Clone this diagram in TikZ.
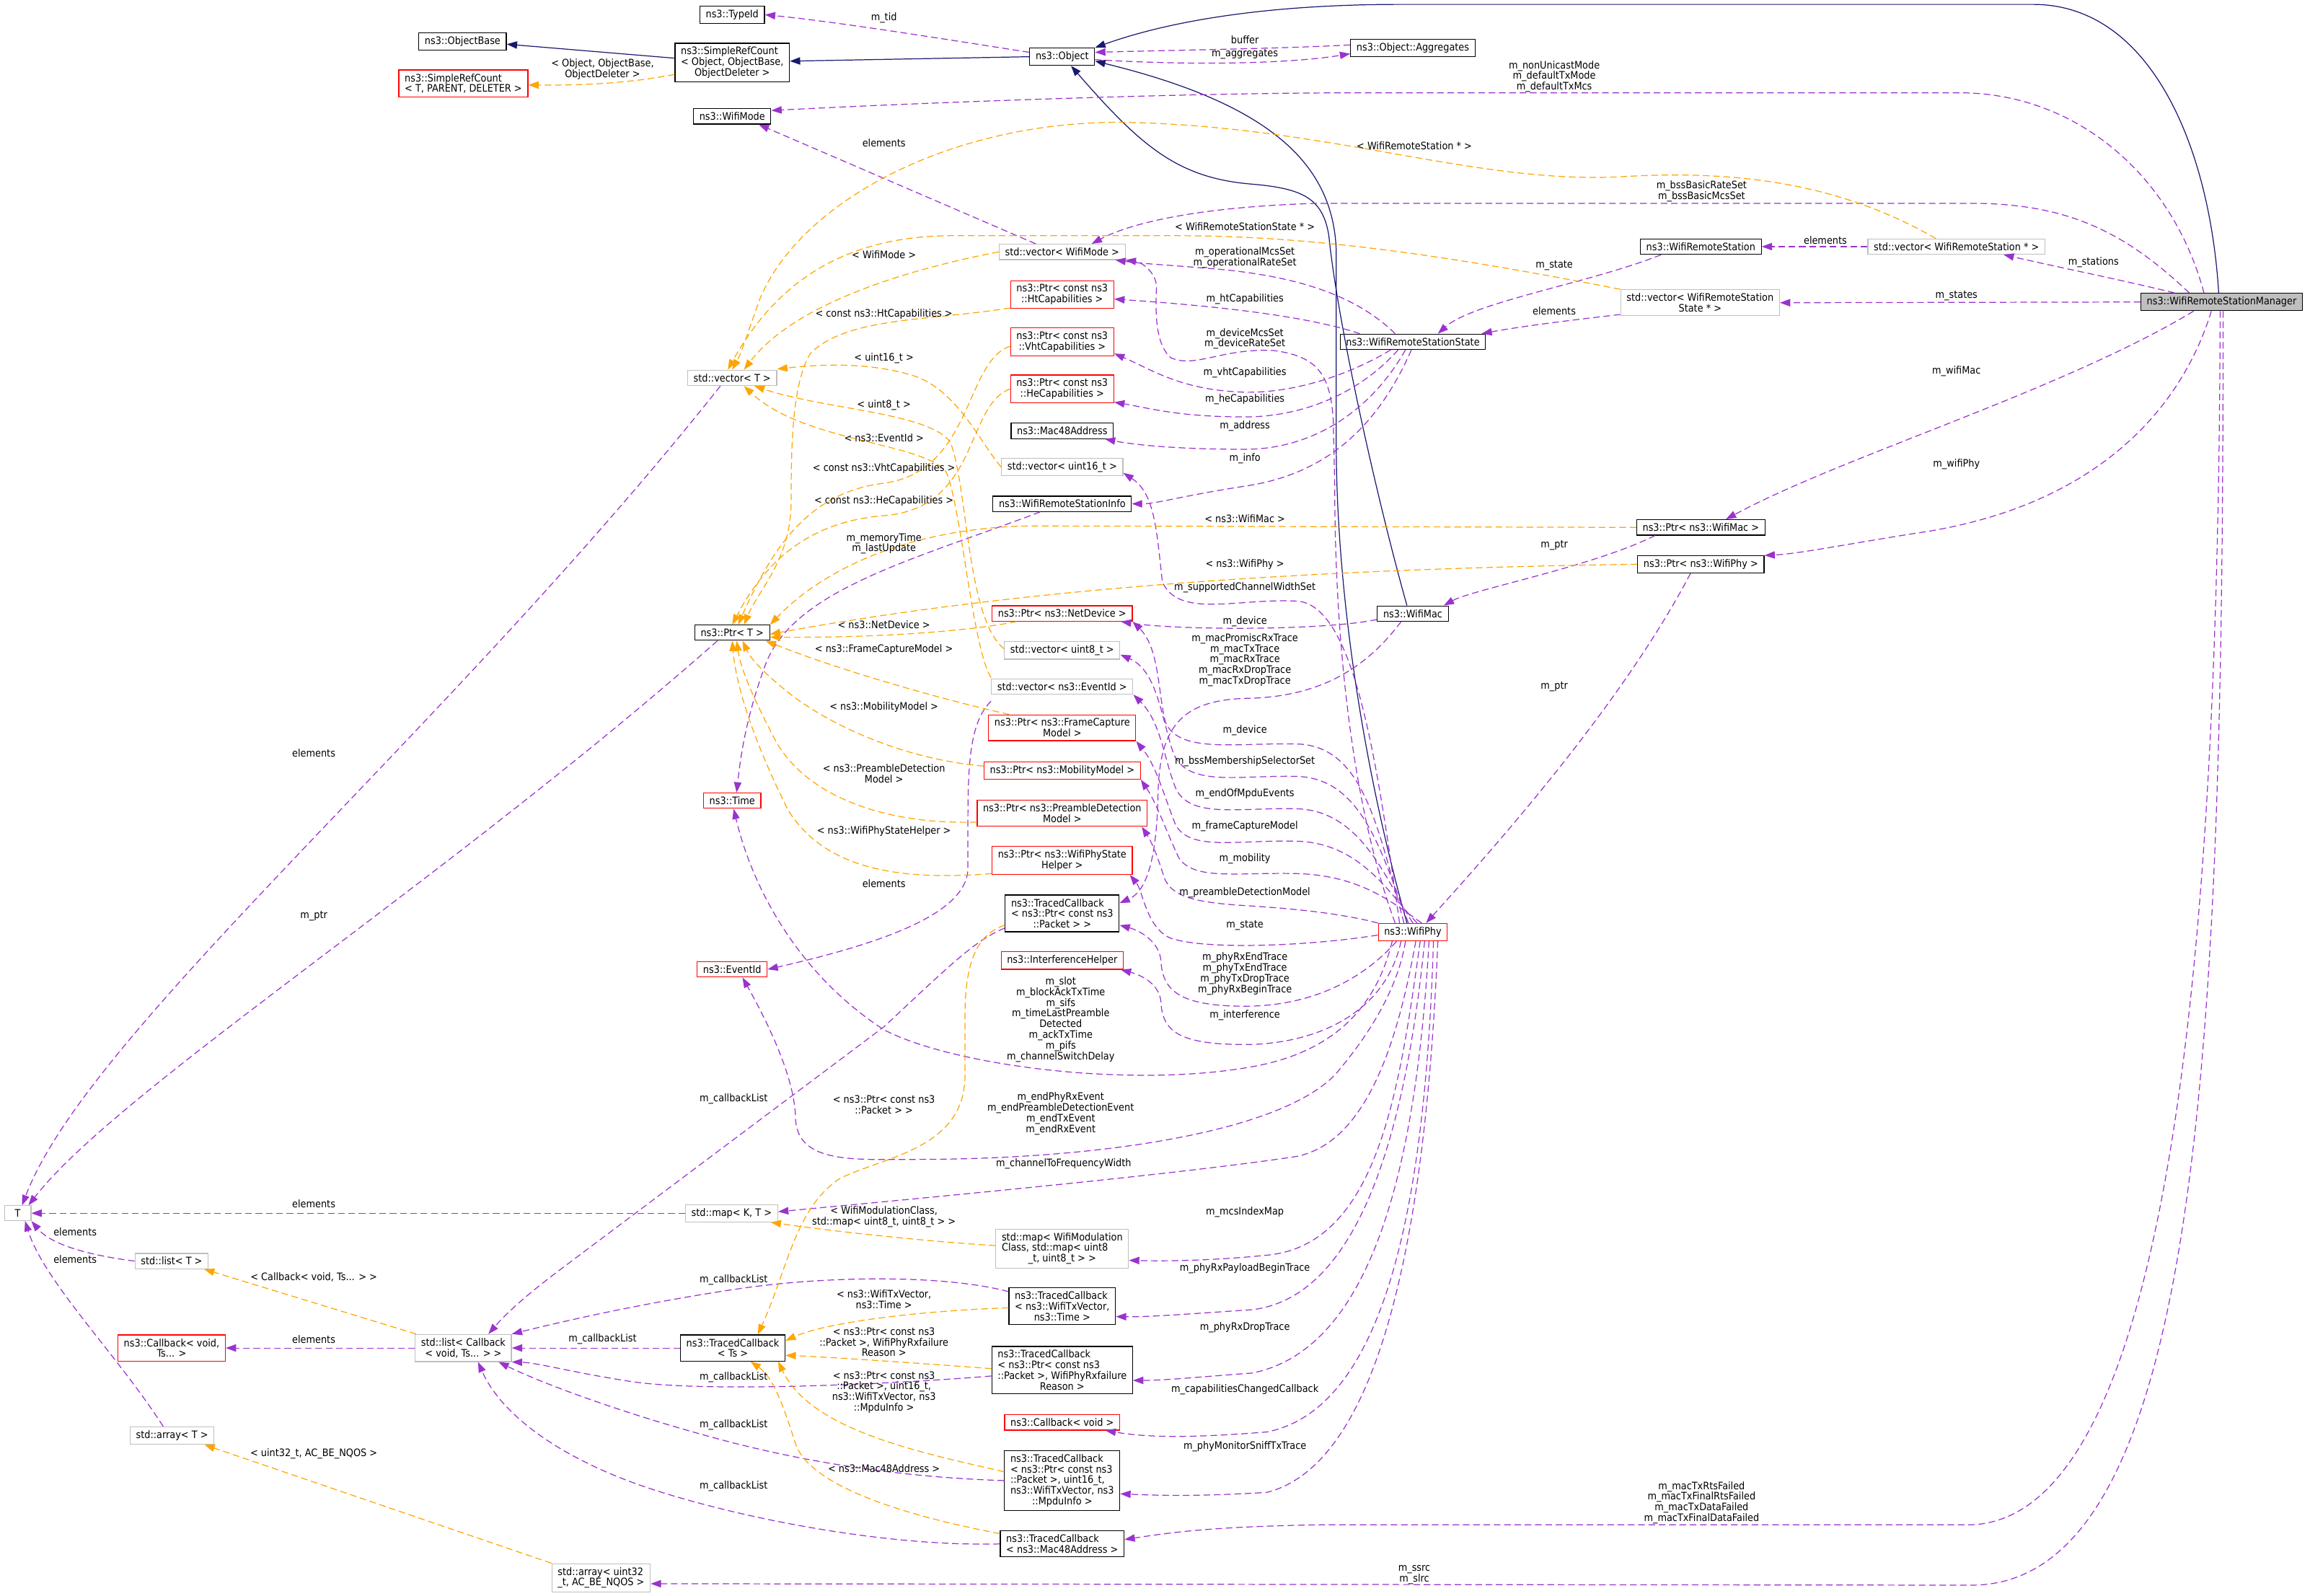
\documentclass[tikz,border=0pt]{standalone}
\usepackage{fontspec}
\setmainfont{DejaVu Sans}[FakeStretch=0.9]
\usetikzlibrary{arrows.meta}
\definecolor{inhblue}{HTML}{191970}
\definecolor{usepurple}{HTML}{9A32CD}
\definecolor{tplorange}{HTML}{FFA500}
\definecolor{nodocgray}{HTML}{BFBFBF}
\newcommand{\ctrline}[1]{\null\hfill#1\hfill\null}
\tikzset{
    cls/.style={draw=black, line width=0.6pt, inner xsep=4pt, inner ysep=2.5pt, align=left, font=\fontsize{7}{7.25}\selectfont},
    clsgray/.style={cls, draw=nodocgray},
    clsred/.style={cls, draw=red},
    clsmain/.style={cls, fill=nodocgray},
    lbl/.style={inner sep=0pt, align=center, font=\fontsize{7}{7.25}\selectfont},
    inh/.style={draw=inhblue, line width=0.6pt, -{Triangle[length=7pt,width=5pt]}},
    memb/.style={draw=usepurple, line width=0.6pt, dash pattern=on 4.5pt off 2.5pt, -{Triangle[length=7pt,width=5pt]}},
    tmpl/.style={draw=tplorange, line width=0.6pt, dash pattern=on 4.5pt off 2.5pt, -{Triangle[length=7pt,width=5pt]}},
}
\begin{document}
\begin{tikzpicture}[x=1pt, y=-1pt]
    \useasboundingbox (0,0) rectangle (1568,1083);
    %classes on top
    \node[cls] (typeid) at (497,10) {ns3::TypeId};
    \node[cls] (objbase) at (314,28) {ns3::ObjectBase};
    \node[clsred] (srcT) at (314.5,56.7) {ns3::SimpleRefCount\\\ctrline{< T, PARENT, DELETER >}};
    \node[cls] (srcObj) at (497,42.5) {ns3::SimpleRefCount\\< Object, ObjectBase,\\\ctrline{ObjectDeleter >}};
    \node[cls] (object) at (721,38.5) {ns3::Object};
    \node[cls] (aggr) at (959,32.5) {ns3::Object::Aggregates};
    \node[cls] (wmode) at (497,79) {ns3::WifiMode};
    %middle column
    \node[clsgray] (vecmode) at (721,171) {std::vector< WifiMode >};
    \node[clsred] (ptrht) at (721,200) {ns3::Ptr< const ns3\\\ctrline{::HtCapabilities >}};
    \node[clsred] (ptrvht) at (721,232) {ns3::Ptr< const ns3\\\ctrline{::VhtCapabilities >}};
    \node[clsred] (ptrhe) at (721,264) {ns3::Ptr< const ns3\\\ctrline{::HeCapabilities >}};
    \node[cls] (mac48) at (721,292.5) {ns3::Mac48Address};
    \node[clsgray] (vecu16) at (721,317) {std::vector< uint16\_t >};
    \node[cls] (rsinfo) at (721,342) {ns3::WifiRemoteStationInfo};
    \node[clsred] (ptrnd) at (721,416.4) {ns3::Ptr< ns3::NetDevice >};
    \node[clsgray] (vecu8) at (721,441.4) {std::vector< uint8\_t >};
    \node[clsgray] (vecev) at (721,466) {std::vector< ns3::EventId >};
    \node[clsred] (ptrfc) at (721,494) {ns3::Ptr< ns3::FrameCapture\\\ctrline{Model >}};
    \node[clsred] (ptrmob) at (721,523) {ns3::Ptr< ns3::MobilityModel >};
    \node[clsred] (ptrpd) at (721,552) {ns3::Ptr< ns3::PreambleDetection\\\ctrline{Model >}};
    \node[clsred] (ptrpsh) at (721,584) {ns3::Ptr< ns3::WifiPhyState\\\ctrline{Helper >}};
    \node[cls] (tcpkt) at (721,620) {ns3::TracedCallback\\< ns3::Ptr< const ns3\\\ctrline{::Packet > >}};
    \node[clsred] (interf) at (721,652) {ns3::InterferenceHelper};
    \node[clsgray] (mapmod) at (721,847.5) {std::map< WifiModulation\\Class, std::map< uint8\\\ctrline{\_t, uint8\_t > >}};
    \node[cls] (tctxv) at (721,886.7) {ns3::TracedCallback\\< ns3::WifiTxVector,\\\ctrline{ns3::Time >}};
    \node[cls] (tcrxf) at (721,930) {ns3::TracedCallback\\< ns3::Ptr< const ns3\\::Packet >, WifiPhyRxfailure\\\ctrline{Reason >}};
    \node[clsred] (cbvoid) at (721,965.5) {ns3::Callback< void >};
    \node[cls] (tcmpdu) at (721,1005) {ns3::TracedCallback\\< ns3::Ptr< const ns3\\::Packet >, uint16\_t,\\ns3::WifiTxVector, ns3\\\ctrline{::MpduInfo >}};
    \node[cls] (tcmac) at (721,1048) {ns3::TracedCallback\\\ctrline{< ns3::Mac48Address >}};
    %templates on the left
    \node[clsgray] (vecT) at (497,256.5) {std::vector< T >};
    \node[cls] (ptrT) at (497,429.5) {ns3::Ptr< T >};
    \node[clsred] (time) at (497,543.5) {ns3::Time};
    \node[clsred] (evid) at (497,658) {ns3::EventId};
    \node[clsgray, minimum width=18pt] (T) at (12,823.5) {T};
    \node[clsgray] (listT) at (116.5,856) {std::list< T >};
    \node[clsred] (cb) at (116.5,915) {ns3::Callback< void,\\\ctrline{Ts... >}};
    \node[clsgray] (listcb) at (314.5,915) {std::list< Callback\\\ctrline{< void, Ts... > >}};
    \node[clsgray] (arrT) at (116.8,974.5) {std::array< T >};
    \node[clsgray] (arru32) at (408,1071) {std::array< uint32\\\ctrline{\_t, AC\_BE\_NQOS >}};
    \node[clsgray] (mapKT) at (496.6,823.5) {std::map< K, T >};
    \node[cls] (tcts) at (497.4,915) {ns3::TracedCallback\\\ctrline{< Ts >}};
    %right part
    \node[cls] (rsstate) at (959,232) {ns3::WifiRemoteStationState};
    \node[cls] (rstation) at (1154.5,167.4) {ns3::WifiRemoteStation};
    \node[clsgray] (vecrs) at (1328,167.4) {std::vector< WifiRemoteStation * >};
    \node[clsgray] (vecrss) at (1154,205.5) {std::vector< WifiRemoteStation\\\ctrline{State * >}};
    \node[clsmain] (mgr) at (1508,205) {ns3::WifiRemoteStationManager};
    \node[cls] (ptrmac) at (1154.5,358) {ns3::Ptr< ns3::WifiMac >};
    \node[cls] (ptrphy) at (1154.5,383) {ns3::Ptr< ns3::WifiPhy >};
    \node[cls] (wmac) at (959,416.5) {ns3::WifiMac};
    \node[clsred] (wphy) at (959,632.7) {ns3::WifiPhy};

    %inheritance
    \draw[inh] ([yshift=3pt]srcObj.west) -- ([yshift=-2pt]objbase.east);
    \draw[inh] (object.west) -- ([yshift=1pt]srcObj.east);
    \draw[inh] ([xshift=-2pt]mgr.north) .. controls (1500,100) and (1460,3) .. (1380,3) -- (950,3) .. controls (870,3) and (800,12) .. (object.north east);
    \draw[inh] ([xshift=-4pt]wmac.north) .. controls (935,340) and (908,220) .. (902,160) .. controls (898,135) and (885,128) .. (850,125) .. controls (800,121) and (775,100) .. ([xshift=6pt]object.south);
    \draw[inh] ([xshift=-4pt]wphy.north) .. controls (925,520) and (907,400) .. (907,300) -- (907,170) .. controls (905,110) and (860,70) .. ([yshift=-3pt]object.east);

    %members, upper part
    \draw[memb] ([yshift=3pt]object.west) .. controls (650,28) and (570,15) .. (typeid.east);
    \draw[memb] ([yshift=-2pt]object.east) .. controls (800,44) and (870,44) .. ([yshift=-4pt]aggr.west);
    \draw[memb] ([yshift=2pt]aggr.west) .. controls (870,33) and (800,34) .. ([yshift=3pt]object.east);
    \draw[memb] ([xshift=-12pt]mgr.north) .. controls (1475,120) and (1410,63) .. (1330,63) -- (920,63) .. controls (800,63) and (620,70) .. ([yshift=4pt]wmode.east);
    \draw[memb] ([xshift=-22pt]mgr.north) .. controls (1440,155) and (1400,138) .. (1337,138) -- (896,138) .. controls (820,140) and (770,150) .. ([xshift=20pt]vecmode.north);
    \draw[memb] ([xshift=-18pt]vecmode.north) -- ([xshift=18pt]wmode.south);
    \draw[memb] ([xshift=-12pt]rsstate.north) .. controls (920,200) and (880,188) .. (830,183) .. controls (795,180) and (775,179) .. ([xshift=-7pt]vecmode.south east);
    \draw[memb] ([xshift=-36pt]rsstate.north) .. controls (880,212) and (800,206) .. ([yshift=-3pt]ptrht.east);
    \draw[memb] ([xshift=-12pt]wphy.north) .. controls (915,540) and (906,420) .. (906,330) -- (905,285) .. controls (903,255) and (895,242) .. (865,238) .. controls (830,236) and (812,250) .. (795,243) .. controls (785,235) and (784,215) .. (785,195) .. controls (785,185) and (775,178) .. (vecmode.south east);
    \draw[memb] ([xshift=-15pt]rsstate.south) .. controls (910,258) and (870,268) .. (840,266) .. controls (800,264) and (780,250) .. ([yshift=-8pt]ptrvht.east);
    \draw[memb] ([xshift=-10pt]rsstate.south) .. controls (920,270) and (880,283) .. (845,283) .. controls (800,283) and (780,277) .. ([yshift=-9pt]ptrhe.east);
    \draw[memb] ([xshift=-5pt]rsstate.south) .. controls (930,280) and (890,305) .. (845,305) .. controls (800,305) and (770,302) .. ([xshift=-6pt]mac48.south east);
    \draw[memb] ([xshift=-1pt]rsstate.south) .. controls (935,290) and (900,322) .. (845,330) .. controls (800,337) and (785,342) .. (rsinfo.east);
    \draw[memb] ([xshift=-27pt]rstation.south) .. controls (1080,192) and (1000,205) .. ([xshift=17pt]rsstate.north);
    \draw[memb] ([yshift=-8pt]vecrss.west) .. controls (1060,218) and (1030,222) .. ([xshift=-3pt]rsstate.north east);
    \draw[memb] (vecrs.west) -- (rstation.east);
    \draw[memb] ([xshift=-32pt]mgr.north) .. controls (1440,190) and (1400,182) .. ([xshift=32pt]vecrs.south);
    \draw[memb] (mgr.west) -- (vecrss.east);
    \draw[memb] ([xshift=-19pt]mgr.south) .. controls (1400,265) and (1250,310) .. ([xshift=17pt]ptrmac.north);
    \draw[memb] ([xshift=-7pt]mgr.south) .. controls (1480,280) and (1420,345) .. (1300,362) .. controls (1250,370) and (1220,376) .. ([yshift=6pt]ptrphy.east);
    \draw[memb] ([xshift=-31pt]ptrmac.south) .. controls (1080,385) and (1000,400) .. ([xshift=21pt]wmac.north);
    \draw[memb] ([xshift=-7pt]ptrphy.south) .. controls (1100,480) and (1010,580) .. ([xshift=9pt]wphy.north);
    \draw[memb] ([yshift=-4pt]wmac.west) .. controls (900,428) and (800,428) .. ([xshift=-8pt]ptrnd.south east);
    \draw[memb] ([xshift=-15pt]rsinfo.south) .. controls (620,380) and (540,400) .. (520,450) .. controls (505,490) and (502,520) .. ([xshift=3pt]time.north);
    %members towards T
    \draw[memb] ([xshift=-8pt]vecT.south) .. controls (300,500) and (60,700) .. ([xshift=3pt]T.north);
    \draw[memb] ([xshift=-10pt]ptrT.south) .. controls (300,600) and (80,740) .. ([xshift=-2pt]T.north east);
    \draw[memb] (mapKT.west) -- (T.east);
    \draw[memb] (listT.west) .. controls (60,852) and (35,845) .. (T.south east);
    \draw[memb] ([xshift=-6pt]arrT.north) .. controls (80,920) and (30,870) .. ([xshift=5pt]T.south);
    \draw[memb] (listcb.west) -- (cb.east);
    \draw[memb] (tcts.west) -- (listcb.east);
    %callback lists
    \draw[memb] ([yshift=-10pt]tcpkt.west) .. controls (662,638) and (645,655) .. (600,697) -- (380,862) .. controls (360,877) and (345,890) .. ([xshift=17pt]listcb.north);
    \draw[memb] ([yshift=10pt]tctxv.west) .. controls (640,865) and (560,866) .. (500,875) .. controls (440,884) and (390,895) .. (listcb.north east);
    \draw[memb] ([yshift=-4pt]tcrxf.west) .. controls (600,940) and (480,945) .. (430,938) .. controls (390,932) and (365,925) .. (listcb.south east);
    \draw[memb] (tcmpdu.west) .. controls (620,1003) and (560,995) .. (500,980) .. controls (430,962) and (370,940) .. ([xshift=-9pt]listcb.south east);
    \draw[memb] (tcmac.west) .. controls (600,1050) and (500,1030) .. (440,1010) .. controls (380,990) and (340,960) .. ([xshift=10pt]listcb.south);
    %members of WifiPhy and WifiMac
    \draw[memb] ([xshift=-9pt]wphy.north) .. controls (935,520) and (920,410) .. (880,408) .. controls (840,406) and (800,420) .. (789,395) .. controls (785,360) and (784,335) .. ([yshift=-4pt]vecu16.east);
    \draw[memb] ([xshift=-6pt]wphy.north) .. controls (935,560) and (925,506) .. (880,505) .. controls (840,504) and (800,512) .. (791,490) .. controls (786,470) and (787,440) .. (ptrnd.south east);
    \draw[memb] ([xshift=-8pt]wmac.south) .. controls (930,450) and (900,473) .. (847,474) .. controls (800,475) and (787,495) .. (786,540) .. controls (785,590) and (776,606) .. ([yshift=7pt]tcpkt.east);
    \draw[memb] ([xshift=-3pt]wphy.north) .. controls (938,580) and (925,528) .. (880,527) .. controls (840,526) and (805,535) .. (796,510) .. controls (788,485) and (785,455) .. ([yshift=-3pt]vecu8.east);
    \draw[memb] (wphy.north) .. controls (942,600) and (925,550) .. (880,549) .. controls (840,548) and (808,556) .. (798,535) .. controls (790,515) and (788,490) .. (vecev.south east);
    \draw[memb] ([xshift=3pt]wphy.north) .. controls (945,610) and (925,572) .. (880,571) .. controls (840,570) and (808,578) .. (798,560) .. controls (790,540) and (785,520) .. (ptrfc.south east);
    \draw[memb] ([xshift=6pt]wphy.north) .. controls (948,615) and (925,594) .. (880,593) .. controls (840,592) and (810,598) .. (800,582) .. controls (792,565) and (785,545) .. (ptrmob.south east);
    \draw[memb] (wphy.north west) .. controls (910,620) and (880,617) .. (850,615) .. controls (815,613) and (795,610) .. (790,595) .. controls (786,582) and (782,572) .. ([xshift=-4pt]ptrpd.south east);
    \draw[memb] ([yshift=-2pt]wphy.west) .. controls (890,642) and (820,645) .. (795,637) .. controls (778,630) and (776,605) .. ([xshift=-2pt]ptrpsh.south east);
    \draw[memb] ([xshift=-11pt]wphy.south) .. controls (925,665) and (890,683) .. (845,683) .. controls (800,683) and (789,672) .. (788,652) .. controls (787,640) and (775,632) .. ([yshift=-8pt]tcpkt.east);
    \draw[memb] ([xshift=-8pt]wphy.south) .. controls (940,690) and (890,709) .. (845,709) .. controls (800,709) and (789,700) .. (788,680) .. controls (787,668) and (775,662) .. ([xshift=-2pt]interf.south east);
    \draw[memb] ([xshift=-14pt]wphy.south) .. controls (935,680) and (910,710) .. (860,722) .. controls (780,740) and (650,725) .. (600,699) .. controls (540,660) and (510,600) .. ([xshift=1pt]time.south);
    \draw[memb] ([yshift=-10pt]vecev.west) .. controls (658,490) and (657,520) .. (657,560) -- (657,590) .. controls (656,620) and (600,640) .. (evid.east);
    \draw[memb] ([xshift=-5pt]wphy.south) .. controls (950,665) and (935,695) .. (910,725) .. controls (880,765) and (760,787) .. (620,787) .. controls (580,787) and (542,790) .. (540,760) .. controls (540,740) and (530,710) .. ([xshift=7pt]evid.south);
    \draw[memb] ([xshift=2pt]wphy.south) .. controls (950,700) and (930,775) .. (880,785) .. controls (800,797) and (640,812) .. ([yshift=1pt]mapKT.east);
    \draw[memb] ([xshift=5pt]wphy.south) .. controls (950,740) and (935,845) .. (860,852) .. controls (820,856) and (790,856) .. ([yshift=-8pt]mapmod.east);
    \draw[memb] ([xshift=8pt]wphy.south) .. controls (955,760) and (925,880) .. (850,889) .. controls (805,892) and (780,894) .. ([yshift=-7pt]tctxv.east);
    \draw[memb] ([xshift=11pt]wphy.south) .. controls (962,780) and (935,915) .. (850,932) .. controls (810,935) and (790,937) .. ([yshift=-7pt]tcrxf.east);
    \draw[memb] ([xshift=14pt]wphy.south) .. controls (968,800) and (945,955) .. (860,972) .. controls (810,976) and (780,976) .. ([xshift=-10pt]cbvoid.south east);
    \draw[memb] ([xshift=17pt]wphy.south) .. controls (970,780) and (950,990) .. (860,1013) .. controls (810,1016) and (785,1015) .. ([yshift=-9pt]tcmpdu.east);
    \draw[memb] ([xshift=-1pt]mgr.south) .. controls (1506,600) and (1480,1030) .. (1338,1035) -- (900,1035) .. controls (820,1036) and (790,1041) .. ([yshift=3pt]tcmac.east);
    \draw[memb] ([xshift=1pt]mgr.south) .. controls (1509,700) and (1495,1076) .. (1338,1076) -- ([yshift=-4pt]arru32.east);

    %template arguments
    \draw[tmpl] ([yshift=-8pt]srcObj.west) .. controls (430,56) and (400,58) .. ([yshift=-1pt]srcT.east);
    \draw[tmpl] (vecmode.west) .. controls (620,182) and (540,205) .. ([xshift=8pt]vecT.north);
    \draw[tmpl] ([xshift=-14pt]vecrs.north) .. controls (1250,125) and (1180,115) .. (1100,120) .. controls (1000,125) and (900,85) .. (760,83) .. controls (640,83) and (540,140) .. (515,205) .. controls (508,225) and (503,240) .. (vecT.north);
    \draw[tmpl] (vecrss.north west) .. controls (1000,177) and (900,160) .. (800,160) -- (650,160) .. controls (570,159) and (525,195) .. ([xshift=-3pt]vecT.north);
    \draw[tmpl] ([yshift=-9pt]ptrht.west) .. controls (630,218) and (575,215) .. (550,240) .. controls (538,260) and (537,300) .. (537,340) .. controls (537,380) and (515,400) .. ([xshift=8pt]ptrT.north);
    \draw[tmpl] (vecu16.west) .. controls (665,300) and (650,265) .. (620,255) .. controls (590,246) and (560,247) .. ([yshift=6pt]vecT.east);
    \draw[tmpl] ([yshift=1pt]vecu8.west) .. controls (656,420) and (657,330) .. (645,300) .. controls (630,280) and (560,278) .. ([xshift=15pt]vecT.south);
    \draw[tmpl] ([yshift=6pt]vecev.west) .. controls (660,440) and (652,340) .. (642,320) .. controls (625,300) and (545,300) .. ([xshift=8pt]vecT.south);
    \draw[tmpl] ([yshift=-3pt]ptrvht.west) .. controls (655,245) and (660,320) .. (600,328) .. controls (550,334) and (525,370) .. ([xshift=4pt]ptrT.north);
    \draw[tmpl] (ptrhe.west) .. controls (655,275) and (665,345) .. (600,350) .. controls (550,354) and (520,380) .. (ptrT.north);
    \draw[tmpl] (ptrmac.west) -- (700,357) .. controls (620,358) and (560,385) .. (ptrT.north east);
    \draw[tmpl] (ptrphy.west) .. controls (900,386) and (700,398) .. ([yshift=-1pt]ptrT.east);
    \draw[tmpl] ([xshift=-31pt]ptrnd.south) .. controls (660,428) and (600,433) .. ([yshift=-3pt]ptrT.east);
    \draw[tmpl] ([xshift=-36pt]ptrfc.north) .. controls (640,475) and (570,455) .. ([xshift=-3pt]ptrT.south east);
    \draw[tmpl] ([yshift=3pt]ptrmob.west) .. controls (610,515) and (560,490) .. (535,470) .. controls (520,458) and (510,448) .. ([xshift=7pt]ptrT.south);
    \draw[tmpl] ([yshift=-6pt]ptrpd.west) .. controls (600,560) and (545,540) .. (525,500) .. controls (512,475) and (503,455) .. ([xshift=3pt]ptrT.south);
    \draw[tmpl] ([yshift=-9pt]ptrpsh.west) .. controls (610,598) and (560,590) .. (535,550) .. controls (515,510) and (500,470) .. (ptrT.south);
    \draw[tmpl] ([yshift=-8pt]tcpkt.west) .. controls (660,635) and (655,660) .. (655,690) -- (655,730) .. controls (655,780) and (600,785) .. (570,800) .. controls (540,820) and (535,860) .. ([xshift=17pt]tcts.north);
    \draw[tmpl] ([yshift=2pt]mapmod.west) .. controls (620,842) and (560,835) .. ([xshift=-5pt]mapKT.south east);
    \draw[tmpl] ([yshift=-1pt]tctxv.west) .. controls (620,890) and (560,898) .. ([yshift=5pt]tcts.east);
    \draw[tmpl] ([yshift=1pt]tcrxf.west) .. controls (620,925) and (560,921) .. ([yshift=-5pt]tcts.east);
    \draw[tmpl] ([yshift=6pt]tcmpdu.west) .. controls (620,985) and (550,970) .. ([xshift=-5pt]tcts.south east);
    \draw[tmpl] ([yshift=7pt]tcmac.west) .. controls (620,1030) and (550,1010) .. (540,980) .. controls (532,955) and (525,935) .. ([xshift=12pt]tcts.south);
    \draw[tmpl] ([xshift=-32pt]listcb.north) -- ([xshift=22pt]listT.south);
    \draw[tmpl] (arru32.north west) -- ([xshift=22pt]arrT.south);

    %edge labels
    \node[lbl] (lTid) at (600,12) {m\_tid};
    \node[lbl] (lBuf) at (845,27) {buffer};
    \node[lbl] (lAggr) at (845,37) {m\_aggregates};
    \node[lbl] (lSrcT) at (409,47) {< Object, ObjectBase,\\ObjectDeleter >};
    \node[lbl] (lMode) at (1055,52) {m\_nonUnicastMode\\m\_defaultTxMode\\m\_defaultTxMcs};
    \node[lbl] (lElMode) at (600,97) {elements};
    \node[lbl] (lRS) at (960,99) {< WifiRemoteStation * >};
    \node[lbl] (lBss) at (1155,130) {m\_bssBasicRateSet\\m\_bssBasicMcsSet};
    \node[lbl] (lRSS) at (845,154) {< WifiRemoteStationState * >};
    \node[lbl] (lElRS) at (1239,163) {elements};
    \node[lbl] (lWMode) at (600,173) {< WifiMode >};
    \node[lbl] (lOpSet) at (845,175) {m\_operationalMcsSet\\m\_operationalRateSet};
    \node[lbl] (lStations) at (1421,178) {m\_stations};
    \node[lbl] (lState) at (1055,180) {m\_state};
    \node[lbl] (lStates) at (1328,201) {m\_states};
    \node[lbl] (lHt) at (845,203) {m\_htCapabilities};
    \node[lbl] (lElRSS) at (1055,211) {elements};
    \node[lbl] (lHtT) at (600,213) {< const ns3::HtCapabilities >};
    \node[lbl] (lDevSet) at (845,230) {m\_deviceMcsSet\\m\_deviceRateSet};
    \node[lbl] (lU16) at (600,243) {< uint16\_t >};
    \node[lbl] (lWMac) at (1328,252) {m\_wifiMac};
    \node[lbl] (lVht) at (845,253) {m\_vhtCapabilities};
    \node[lbl] (lHe) at (845,271) {m\_heCapabilities};
    \node[lbl] (lU8) at (600,275) {< uint8\_t >};
    \node[lbl] (lAddr) at (845,289) {m\_address};
    \node[lbl] (lEvT) at (600,297) {< ns3::EventId >};
    \node[lbl] (lInfo) at (845,311) {m\_info};
    \node[lbl] (lWPhy) at (1328,315) {m\_wifiPhy};
    \node[lbl] (lVhtT) at (600,318) {< const ns3::VhtCapabilities >};
    \node[lbl] (lHeT) at (600,340) {< const ns3::HeCapabilities >};
    \node[lbl] (lMacT) at (845,352) {< ns3::WifiMac >};
    \node[lbl] (lMem) at (600,369) {m\_memoryTime\\m\_lastUpdate};
    \node[lbl] (lPtrMac) at (1055,370) {m\_ptr};
    \node[lbl] (lPhyT) at (845,383) {< ns3::WifiPhy >};
    \node[lbl] (lChW) at (845,399) {m\_supportedChannelWidthSet};
    \node[lbl] (lDev1) at (845,422) {m\_device};
    \node[lbl] (lNdT) at (600,424) {< ns3::NetDevice >};
    \node[lbl] (lFcT) at (600,441) {< ns3::FrameCaptureModel >};
    \node[lbl] (lMacTr) at (845,448) {m\_macPromiscRxTrace\\m\_macTxTrace\\m\_macRxTrace\\m\_macRxDropTrace\\m\_macTxDropTrace};
    \node[lbl] (lPtrPhy) at (1055,466) {m\_ptr};
    \node[lbl] (lMobT) at (600,480) {< ns3::MobilityModel >};
    \node[lbl] (lDev2) at (845,496) {m\_device};
    \node[lbl] (lElT) at (213,511) {elements};
    \node[lbl] (lBssSel) at (845,517) {m\_bssMembershipSelectorSet};
    \node[lbl] (lPdT) at (600,525) {< ns3::PreambleDetection\\Model >};
    \node[lbl] (lEom) at (845,539) {m\_endOfMpduEvents};
    \node[lbl] (lFc) at (845,561) {m\_frameCaptureModel};
    \node[lbl] (lPshT) at (600,564) {< ns3::WifiPhyStateHelper >};
    \node[lbl] (lMob) at (845,583) {m\_mobility};
    \node[lbl] (lElEv) at (600,600) {elements};
    \node[lbl] (lPd) at (845,606) {m\_preambleDetectionModel};
    \node[lbl] (lPtrT) at (213,622) {m\_ptr};
    \node[lbl] (lPsh) at (845,628) {m\_state};
    \node[lbl] (lPhyTr) at (845,661) {m\_phyRxEndTrace\\m\_phyTxEndTrace\\m\_phyTxDropTrace\\m\_phyRxBeginTrace};
    \node[lbl] (lInterf) at (845,689) {m\_interference};
    \node[lbl] (lTimes) at (720,692) {m\_slot\\m\_blockAckTxTime\\m\_sifs\\m\_timeLastPreamble\\Detected\\m\_ackTxTime\\m\_pifs\\m\_channelSwitchDelay};
    \node[lbl] (lCbl1) at (498,746) {m\_callbackList};
    \node[lbl] (lPktT) at (600,750) {< ns3::Ptr< const ns3\\::Packet > >};
    \node[lbl] (lEvents) at (720,756) {m\_endPhyRxEvent\\m\_endPreambleDetectionEvent\\m\_endTxEvent\\m\_endRxEvent};
    \node[lbl] (lChFreq) at (722,790) {m\_channelToFrequencyWidth};
    \node[lbl] (lElMap) at (213,817) {elements};
    \node[lbl] (lMcs) at (845,823) {m\_mcsIndexMap};
    \node[lbl] (lModT) at (600,826) {< WifiModulationClass,\\std::map< uint8\_t, uint8\_t > >};
    \node[lbl] (lElList) at (51,836) {elements};
    \node[lbl] (lElArr) at (51,855) {elements};
    \node[lbl] (lPayload) at (845,861) {m\_phyRxPayloadBeginTrace};
    \node[lbl] (lCbT) at (213,867) {< Callback< void, Ts... > >};
    \node[lbl] (lCbl2) at (498,869) {m\_callbackList};
    \node[lbl] (lTxvT) at (600,882) {< ns3::WifiTxVector,\\ns3::Time >};
    \node[lbl] (lRxDrop) at (845,901) {m\_phyRxDropTrace};
    \node[lbl] (lElCb) at (213,909) {elements};
    \node[lbl] (lCbl0) at (409,909) {m\_callbackList};
    \node[lbl] (lRxfT) at (600,911) {< ns3::Ptr< const ns3\\::Packet >, WifiPhyRxfailure\\Reason >};
    \node[lbl] (lCbl3) at (498,935) {m\_callbackList};
    \node[lbl] (lCapCb) at (845,943) {m\_capabilitiesChangedCallback};
    \node[lbl] (lMpduT) at (600,945) {< ns3::Ptr< const ns3\\::Packet >, uint16\_t,\\ns3::WifiTxVector, ns3\\::MpduInfo >};
    \node[lbl] (lCbl4) at (498,967) {m\_callbackList};
    \node[lbl] (lSniff) at (845,982) {m\_phyMonitorSniffTxTrace};
    \node[lbl] (lArrT) at (213,987) {< uint32\_t, AC\_BE\_NQOS >};
    \node[lbl] (lMacAddrT) at (600,997) {< ns3::Mac48Address >};
    \node[lbl] (lCbl5) at (498,1009) {m\_callbackList};
    \node[lbl] (lFailed) at (1155,1020) {m\_macTxRtsFailed\\m\_macTxFinalRtsFailed\\m\_macTxDataFailed\\m\_macTxFinalDataFailed};
    \node[lbl] (lSrc) at (960,1069) {m\_ssrc\\m\_slrc};
\end{tikzpicture}
\end{document}
